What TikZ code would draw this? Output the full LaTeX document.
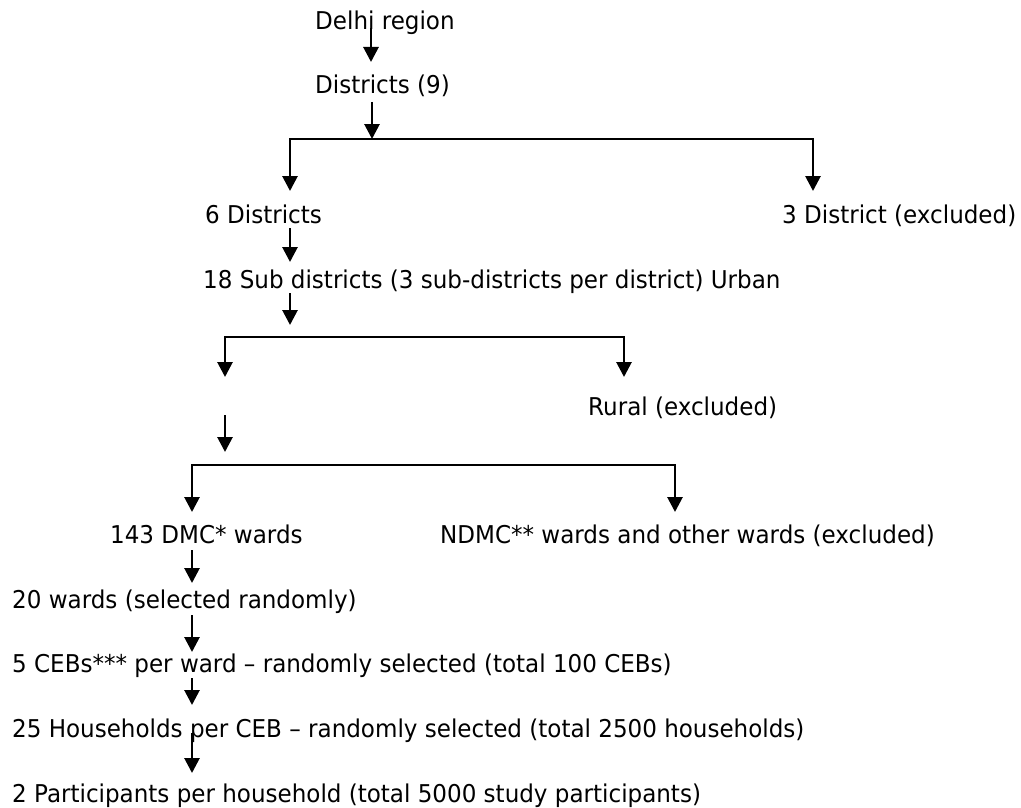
\documentclass[tikz,border=0pt]{standalone}
\usepackage{fontspec}
\setmainfont{DejaVu Sans}[FakeStretch=0.94]
\usetikzlibrary{arrows.meta}
\tikzset{
  lbl/.style={anchor=base west,inner sep=0pt,font=\fontsize{24.5}{29}\selectfont},
  arr/.style={-{Triangle[width=15pt,length=15pt]},line width=2.8pt},
  bar/.style={line width=2pt,line cap=rect}
}
\begin{document}
\begin{tikzpicture}[x=1pt,y=-1pt]
\useasboundingbox (0,0) rectangle (1021,808);
\node[lbl] (delhi) at (315,30) {Delhi region};
\node[lbl] (dist9) at (315,93) {Districts (9)};
\node[lbl] (six) at (205,223) {6 Districts};
\node[lbl] (three) at (782,223) {3 District (excluded)};
\node[lbl] (sub) at (203,288) {18 Sub districts (3 sub-districts per district) Urban};
\node[lbl] (rural) at (588,415) {Rural (excluded)};
\node[lbl] (dmc) at (110,543) {143 DMC* wards};
\node[lbl] (ndmc) at (440,543) {NDMC** wards and other wards (excluded)};
\node[lbl] (wards) at (12,608) {20 wards (selected randomly)};
\node[lbl] (cebs) at (12,672) {5 CEBs*** per ward – randomly selected (total 100 CEBs)};
\node[lbl] (hh) at (12,737) {25 Households per CEB – randomly selected (total 2500 households)};
\node[lbl] (part) at (12,802) {2 Participants per household (total 5000 study participants)};
% connector points
\coordinate (d1) at (371,28);  \coordinate (d2) at (371,62);
\coordinate (d3) at (372,102); \coordinate (b1) at (372,139);
\coordinate (b1l) at (290,139); \coordinate (b1r) at (813,139);
\coordinate (t1l) at (290,191); \coordinate (t1r) at (813,191);
\coordinate (s1) at (290,228); \coordinate (s2) at (290,262);
\coordinate (s3) at (290,293); \coordinate (s4) at (290,325);
\coordinate (b2l) at (225,337); \coordinate (b2r) at (624,337);
\coordinate (t2l) at (225,377); \coordinate (t2r) at (624,377);
\coordinate (u1) at (225,415); \coordinate (u2) at (225,452);
\coordinate (b3l) at (192,465); \coordinate (b3r) at (675,465);
\coordinate (t3l) at (192,512); \coordinate (t3r) at (675,512);
\coordinate (w1) at (192,550); \coordinate (w2) at (192,583);
\coordinate (w3) at (192,615); \coordinate (w4) at (192,652);
\coordinate (w5) at (192,678); \coordinate (w6) at (192,705);
\coordinate (w7) at (192,733); \coordinate (w8) at (192,773);
\draw[arr] (d1) -- (d2);
\draw[arr] (d3) -- (b1);
\draw[bar] (b1l) -- (b1r);
\draw[arr] (b1l) -- (t1l);
\draw[arr] (b1r) -- (t1r);
\draw[arr] (s1) -- (s2);
\draw[arr] (s3) -- (s4);
\draw[bar] (b2l) -- (b2r);
\draw[arr] (b2l) -- (t2l);
\draw[arr] (b2r) -- (t2r);
\draw[arr] (u1) -- (u2);
\draw[bar] (b3l) -- (b3r);
\draw[arr] (b3l) -- (t3l);
\draw[arr] (b3r) -- (t3r);
\draw[arr] (w1) -- (w2);
\draw[arr] (w3) -- (w4);
\draw[arr] (w5) -- (w6);
\draw[arr] (w7) -- (w8);
\end{tikzpicture}
\end{document}
